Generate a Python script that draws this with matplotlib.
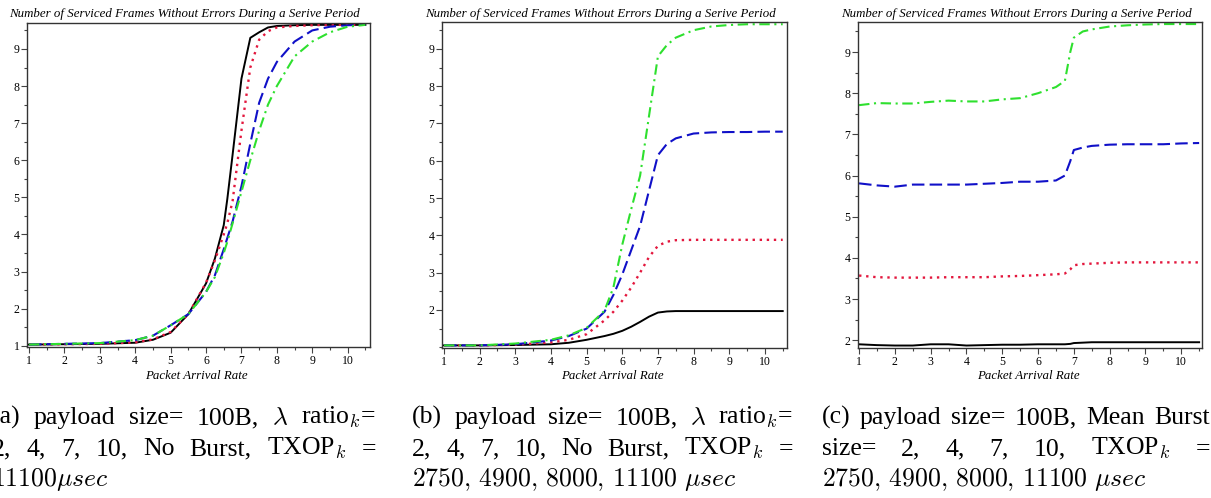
import matplotlib
matplotlib.use("Agg")
import matplotlib.pyplot as plt
from matplotlib.ticker import MultipleLocator

W, H = 1211, 498
plt.rcParams['mathtext.fontset'] = 'cm'

# ---- data ----
x_a = [1, 2, 3, 4, 4.5, 5, 5.5, 6, 6.25, 6.5, 6.6, 6.75, 7, 7.25, 7.5, 7.75, 8, 8.5, 9, 9.5, 10, 10.5]
black_a = [1.03, 1.04, 1.05, 1.08, 1.16, 1.35, 1.85, 2.68, 3.35, 4.25, 4.95, 6.15, 8.2, 9.3, 9.45, 9.58, 9.62, 9.64, 9.65, 9.65, 9.65, 9.65]
red_a = [1.03, 1.04, 1.05, 1.09, 1.17, 1.37, 1.85, 2.7, 3.3, 4.0, 4.3, 4.9, 6.8, 8.5, 9.25, 9.48, 9.58, 9.62, 9.64, 9.65, 9.65, 9.65]
blue_a = [1.03, 1.05, 1.07, 1.15, 1.27, 1.55, 1.85, 2.45, 2.9, 3.6, 3.9, 4.35, 5.3, 6.45, 7.55, 8.2, 8.65, 9.2, 9.5, 9.6, 9.64, 9.65]
green_a = [1.03, 1.05, 1.07, 1.15, 1.27, 1.55, 1.85, 2.45, 2.85, 3.5, 3.8, 4.3, 5.15, 6.0, 6.8, 7.5, 8.0, 8.8, 9.2, 9.45, 9.6, 9.65]

x_b = [1, 2, 3, 4, 4.5, 5, 5.5, 5.75, 6, 6.25, 6.5, 6.75, 7, 7.25, 7.5, 8, 8.5, 9, 9.5, 10, 10.5]
black_b = [1.05, 1.05, 1.06, 1.08, 1.12, 1.2, 1.3, 1.36, 1.44, 1.55, 1.68, 1.82, 1.93, 1.96, 1.97, 1.97, 1.97, 1.97, 1.97, 1.97, 1.97]
red_b = [1.05, 1.05, 1.07, 1.13, 1.2, 1.35, 1.72, 1.95, 2.25, 2.6, 3.0, 3.42, 3.72, 3.83, 3.87, 3.88, 3.88, 3.88, 3.88, 3.88, 3.88]
blue_b = [1.05, 1.05, 1.08, 1.18, 1.3, 1.5, 1.95, 2.4, 2.95, 3.6, 4.25, 5.2, 6.15, 6.45, 6.6, 6.73, 6.76, 6.77, 6.77, 6.78, 6.78]
green_b = [1.05, 1.05, 1.1, 1.2, 1.32, 1.52, 1.98, 2.6, 3.75, 4.7, 5.6, 7.2, 8.8, 9.1, 9.3, 9.5, 9.6, 9.64, 9.66, 9.66, 9.66]

x_c = [1, 1.5, 2, 2.5, 3, 3.5, 4, 4.5, 5, 5.5, 6, 6.5, 6.75, 6.9, 7, 7.25, 7.5, 8, 8.5, 9, 9.5, 10, 10.5]
black_c = [1.9, 1.88, 1.87, 1.87, 1.9, 1.9, 1.87, 1.88, 1.89, 1.89, 1.9, 1.9, 1.9, 1.91, 1.93, 1.94, 1.95, 1.95, 1.95, 1.95, 1.95, 1.95, 1.95]
red_c = [3.57, 3.53, 3.52, 3.52, 3.52, 3.53, 3.53, 3.53, 3.55, 3.56, 3.58, 3.6, 3.62, 3.72, 3.82, 3.85, 3.86, 3.88, 3.89, 3.89, 3.89, 3.89, 3.89]
blue_c = [5.81, 5.76, 5.73, 5.78, 5.78, 5.78, 5.78, 5.8, 5.82, 5.85, 5.85, 5.88, 6.0, 6.35, 6.62, 6.68, 6.72, 6.75, 6.76, 6.76, 6.76, 6.78, 6.79]
green_c = [7.71, 7.76, 7.75, 7.75, 7.79, 7.82, 7.8, 7.8, 7.85, 7.88, 8.0, 8.15, 8.3, 9.0, 9.35, 9.5, 9.55, 9.62, 9.65, 9.67, 9.68, 9.68, 9.68]

title = "Number of Serviced Frames Without Errors During a Serive Period"
xlabel = "Packet Arrival Rate"

captions = {
    'a': [["(a)", "payload", "size=", "100B,", r"$\lambda$", r"ratio$_k$="],
          ["2,", "4,", "7,", "10,", "No", "Burst,", r"TXOP$_k$", "="],
          [r"$11100\mu sec$"]],
    'b': [["(b)", "payload", "size=", "100B,", r"$\lambda$", r"ratio$_k$="],
          ["2,", "4,", "7,", "10,", "No", "Burst,", r"TXOP$_k$", "="],
          [r"$2750,\,4900,\,8000,\,11100\ \mu sec$"]],
    'c': [["(c)", "payload", "size=", "100B,", "Mean", "Burst"],
          ["size=", "2,", "4,", "7,", "10,", r"TXOP$_k$", "="],
          [r"$2750,\,4900,\,8000,\,11100\ \mu sec$"]],
}

# ---- layout (pixels) ----
panels = {
    'a': dict(box=(27, 370, 23, 347), xlim=(0.944, 10.63), ylim=(0.965, 9.70),
              yticks=range(1, 10), series=(x_a, black_a, red_a, blue_a, green_a), cap=(-8, 376)),
    'b': dict(box=(442, 787, 22, 348), xlim=(0.944, 10.62), ylim=(0.98, 9.72),
              yticks=range(2, 10), series=(x_b, black_b, red_b, blue_b, green_b), cap=(412, 793)),
    'c': dict(box=(858, 1202, 22, 348), xlim=(0.97, 10.58), ylim=(1.81, 9.73),
              yticks=range(2, 10), series=(x_c, black_c, red_c, blue_c, green_c), cap=(822, 1210)),
}

styles = [dict(color='black', ls='-', lw=1.4),
          dict(color='#e3173d', ls=(0, (1, 2)), lw=1.7),
          dict(color='#1010c8', ls=(0, (6, 2.5)), lw=1.5),
          dict(color='#2ee02e', ls=(0, (5, 2.2, 1, 2.2)), lw=1.5)]

serif = 'Liberation Serif'

fig = plt.figure(figsize=(W / 100, H / 100), dpi=100)
renderer = fig.canvas.get_renderer()


def justify(words, x0, x1, base, size, fill=True):
    texts = [fig.text(0, (H - base) / H, w, fontsize=size, family=serif, va='baseline', ha='left')
             for w in words]
    widths = [t.get_window_extent(renderer).width for t in texts]
    if fill and len(words) > 1:
        gap = (x1 - x0 - sum(widths)) / (len(words) - 1)
    else:
        gap = 0
    x = x0
    for t, w in zip(texts, widths):
        t.set_x(x / W)
        x += w + gap


for key, p in panels.items():
    l, r, t, b = p['box']
    ax = fig.add_axes([l / W, (H - b) / H, (r - l) / W, (b - t) / H])
    xs = p['series'][0]
    for ys, st in zip(p['series'][1:], styles):
        ax.plot(xs, ys, **st)
    ax.set_xlim(*p['xlim'])
    ax.set_ylim(*p['ylim'])
    ax.set_xticks(range(1, 11))
    ax.set_yticks(list(p['yticks']))
    ax.xaxis.set_minor_locator(MultipleLocator(0.5))
    ax.yaxis.set_minor_locator(MultipleLocator(0.5))
    ax.tick_params(which='major', length=4, width=0.8, color='#444444', labelsize=8.5, pad=1.5)
    ax.tick_params(which='minor', length=2.5, width=0.8, color='#444444')
    for lab in ax.get_xticklabels() + ax.get_yticklabels():
        lab.set_family(serif)
    for sp in ax.spines.values():
        sp.set_color('#333333')
        sp.set_linewidth(1.0)
    cx = (l + r) / 2
    fig.text((cx - 14) / W, (H - 14) / H, title, fontsize=9.3, family=serif, style='italic',
             ha='center', va='center')
    fig.text((cx - 2) / W, (H - 376) / H, xlabel, fontsize=9.3, family=serif, style='italic',
             ha='center', va='center')
    x0, x1 = p['cap']
    lines = captions[key]
    for i, words in enumerate(lines):
        justify(words, x0, x1, 424 + 31 * i, 18.5, fill=(i < len(lines) - 1))

fig.savefig('out.png', dpi=100)
